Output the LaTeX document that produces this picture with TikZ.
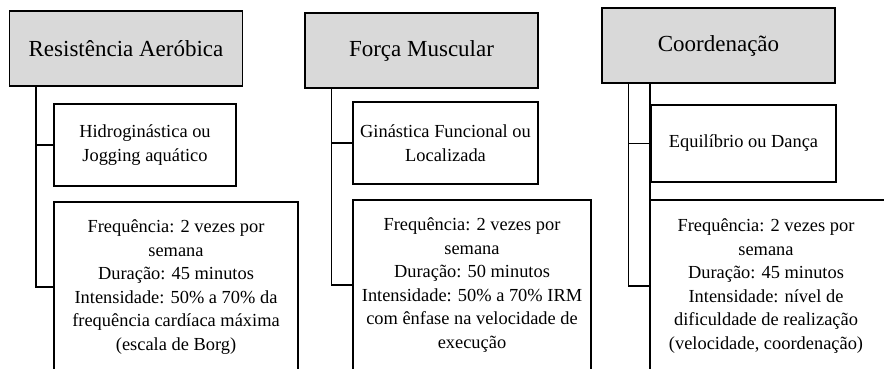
\documentclass[tikz,border=0pt]{standalone}
\usepackage{fontspec}
\setmainfont{Liberation Serif}
\usetikzlibrary{positioning}
\definecolor{headgray}{HTML}{D9D9D9}
\tikzset{
  headbox/.style={draw,fill=headgray,line width=1.6pt,minimum width=233pt,
    minimum height=75pt,inner sep=0pt,font=\fontsize{23}{27}\selectfont},
  actbox/.style={draw,line width=1.6pt,minimum height=80pt,inner sep=0pt,
    align=center,font=\fontsize{18.4}{23.5}\selectfont},
  detbox/.style={draw,line width=1.6pt,minimum height=170pt,inner sep=0pt,
    align=center,font=\fontsize{18.4}{23.5}\selectfont},
  link/.style={line width=1.6pt,draw=black},
}

\begin{document}
\begin{tikzpicture}[x=1pt,y=-1pt]
  \useasboundingbox (0,0) rectangle (884,368);
  \clip (0,0) rectangle (884,368);
  % headers
  \node[headbox] (h1) at (126,48.5) {Resistência Aeróbica};
  \node[headbox] (h2) at (421.5,50.5) {Força Muscular};
  \node[headbox] (h3) at (718.5,45.5) {Coordenação};
  % activities
  \node[actbox,minimum width=182pt,minimum height=82pt] (a1) at (145,145)
    {Hidroginástica ou\\Jogging aquático};
  \node[actbox,minimum width=185pt,minimum height=82pt] (a2) at (445.5,143)
    {Ginástica Funcional ou\\Localizada};
  \node[actbox,minimum width=185pt,minimum height=77pt] (a3) at (743.5,143.5)
    {Equilíbrio ou Dança};
  % details
  \node[detbox,minimum width=244pt] (d1) at (176,287)
    {Frequência: 2 vezes por\\semana\\Duração: 45 minutos\\Intensidade: 50\% a 70\% da\\frequência cardíaca máxima\\(escala de Borg)};
  \node[detbox,minimum width=238pt] (d2) at (472,285)
    {Frequência: 2 vezes por\\semana\\Duração: 50 minutos\\Intensidade: 50\% a 70\% IRM\\com ênfase na velocidade de\\execução};
  \node[detbox,draw=none,minimum width=230pt] (d3) at (766,286)
    {Frequência: 2 vezes por\\semana\\Duração: 45 minutos\\Intensidade: nível de\\dificuldade de realização\\(velocidade, coordenação)};
  \draw[link] (d3.south west) -- (d3.north west) -- ++(40,0) -- (d3.north east) -- ++(40,0);
  % trunks
  \coordinate (t1) at ([xshift=-90pt]h1.south);
  \coordinate (t2) at ([xshift=-90pt]h2.south);
  \coordinate (t3) at ([xshift=-90pt]h3.south);
  \draw[link] (t1) |- (d1.west);
  \draw[link] (t1 |- a1.west) -- (a1.west);
  \draw[link] (t2) |- (d2.west);
  \draw[link] (t2 |- a2.west) -- (a2.west);
  \draw[link] (t3) |- (d3.west);
  \draw[link] (t3 |- a3.west) -- (a3.west);
  \draw[link] (h3.south -| d3.west) -- (d3.north west);
\end{tikzpicture}
\end{document}
